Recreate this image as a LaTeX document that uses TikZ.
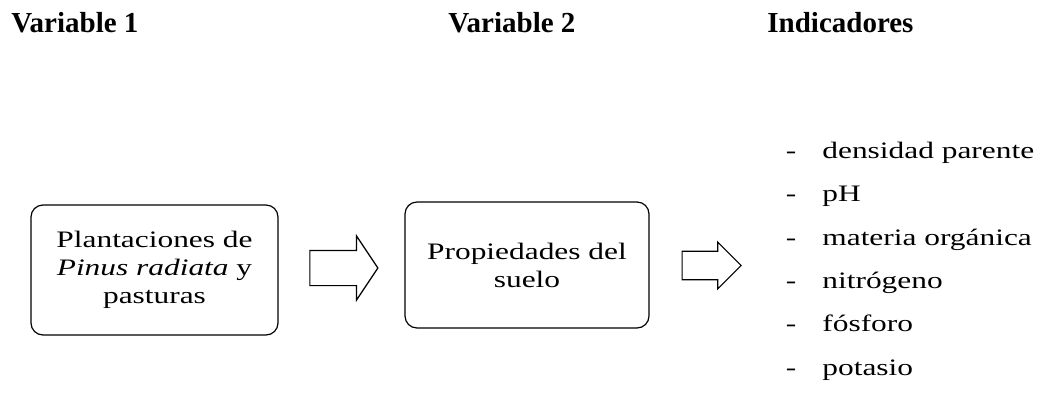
\documentclass[tikz,border=0pt]{standalone}
\usepackage{fontspec}
\setmainfont{Liberation Serif}
\newfontfamily\wideserif{Liberation Serif}[FakeStretch=1.33]
\usetikzlibrary{shapes.arrows}

\begin{document}
\begin{tikzpicture}[
  x=0.5pt, y=-0.5pt,
  head/.style={font=\fontsize{14.5}{17}\selectfont\bfseries, anchor=base west, inner sep=0pt},
  varbox/.style={draw, line width=0.6pt, rounded corners=6pt, align=center, inner sep=0pt,
    font=\wideserif\fontsize{11.8}{14}\selectfont},
  blockarrow/.style={draw, line width=0.6pt, single arrow, inner xsep=0pt},
  item/.style={font=\wideserif\fontsize{11.8}{14}\selectfont, anchor=base west, inner sep=0pt},
]
  \useasboundingbox (0,0) rectangle (1042,397);

  % column heads
  \node[head] (var1) at (11,32.3) {Variable 1};
  \node[head] (var2) at (448,32.3) {Variable 2};
  \node[head] (ind) at (767,32.3) {Indicadores};

  % the two variables
  \node[varbox, minimum width=123.5pt, minimum height=65pt] (plant) at (154.5,270)
    {Plantaciones de\\\emph{Pinus radiata} y\\pasturas};
  \node[varbox, minimum width=122pt, minimum height=63pt] (suelo) at (527,265)
    {Propiedades del\\suelo};

  % block arrows (for this shape minimum height is the length)
  \node[blockarrow, inner ysep=8.5pt, minimum height=34pt,
    single arrow head extend=7.25pt, single arrow tip angle=112.6] (arr1) at (338,268) {};
  \node[blockarrow, inner ysep=6.8pt, minimum height=29.5pt,
    single arrow head extend=4.6pt, single arrow tip angle=90] (arr2) at (704.5,265.5) {};

  % indicators
  \foreach \t [count=\i from 0] in {densidad parente, pH, materia orgánica, nitrógeno, fósforo, potasio} {
    \node[item] (dash\i) at (785.5,158.3+43.4*\i) {-};
    \node[item] (item\i) at (822,158.3+43.4*\i) {\t};
  }
\end{tikzpicture}
\end{document}
